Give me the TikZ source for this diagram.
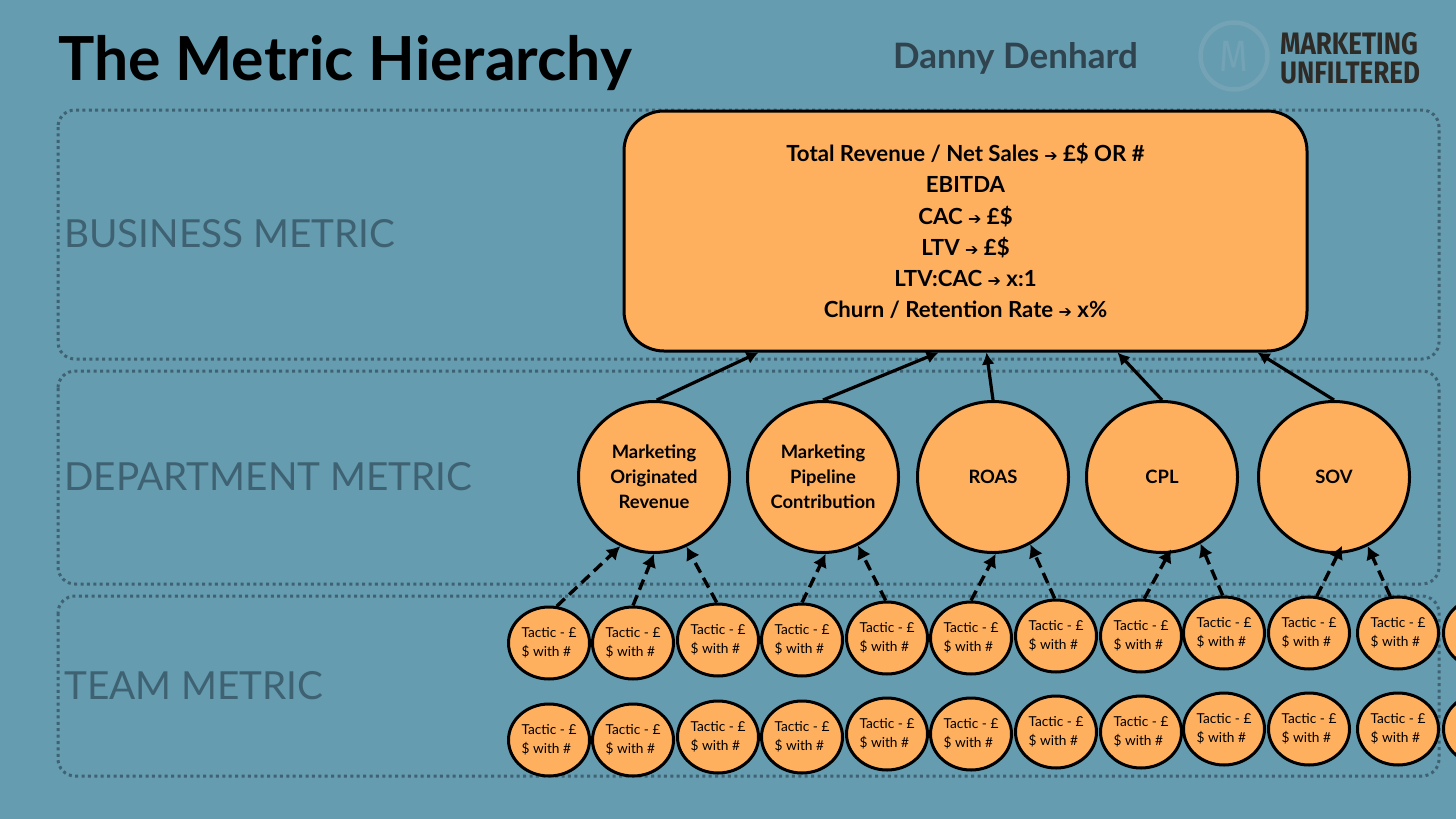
\documentclass[tikz,border=0pt]{standalone}
\usepackage{fontspec}
\setmainfont{Lato}
\newfontfamily\arrowfont{DejaVu Sans}
\newfontfamily\logofont[FakeStretch=0.84]{Fira Sans}
\usetikzlibrary{arrows.meta,positioning,calc,shapes.geometric}
\definecolor{slate}{HTML}{659CB0}
\definecolor{peach}{HTML}{FFB05F}
\definecolor{dusk}{HTML}{3F6272}
\definecolor{ink}{HTML}{2F444F}
\definecolor{ring}{HTML}{74A3B5}
\definecolor{bark}{HTML}{2E2A26}
\newcommand{\arr}{{\arrowfont\fontsize{16}{16}\selectfont ➔}}
\tikzset{
  panel/.style={draw=dusk, line width=3pt, dash pattern=on 3pt off 3.4pt, rounded corners=17pt},
  tier/.style={text=dusk, anchor=west, inner sep=0pt, font=\fontsize{38.7}{38.7}\selectfont},
  dept/.style={circle, draw=black, fill=peach, line width=3pt, minimum size=151pt, inner sep=0pt,
    align=center, font=\bfseries\fontsize{18.4}{25}\selectfont},
  tactic/.style={ellipse, draw=black, fill=peach, line width=3pt, minimum width=81pt, minimum height=72pt,
    inner sep=0pt, align=left, font=\fontsize{13.7}{19.5}\selectfont},
  solidup/.style={line width=3.2pt, -{Latex[length=12pt,width=13pt]}},
  dashup/.style={line width=3.4pt, dash pattern=on 11pt off 6pt, -{Latex[length=13pt,width=15pt]}}
}
\begin{document}
\begin{tikzpicture}[x=1pt, y=-1pt]
  \useasboundingbox[fill=slate] (0,0) rectangle (1456,819);
  % header
  \node[anchor=base west, inner sep=0pt, font=\bfseries\fontsize{60.7}{61}\selectfont] (title) at (58,80) {The Metric Hierarchy};
  \node[anchor=base west, inner sep=0pt, text=ink, font=\bfseries\fontsize{35}{35}\selectfont] (author) at (893,68) {Danny Denhard};
  \node[circle, draw=ring, line width=4.5pt, minimum size=67pt, inner sep=0pt, text=ring, font=\logofont\fontsize{44}{44}\selectfont] (logo) at (1234,56) {M};
  \node[anchor=center, inner sep=0pt, text=bark, font=\logofont\bfseries\fontsize{31}{29}\selectfont, align=left] (brand) at (1350,58) {MARKETING\\UNFILTERED};
  % dotted bands
  \draw[panel] (58,110) rectangle (1439,359);
  \draw[panel] (58,371) rectangle (1439,584);
  \draw[panel] (58,596) rectangle (1439,776);
  \node[tier] (lblbiz) at (64,234) {BUSINESS METRIC};
  \node[tier] (lbldept) at (64,477) {DEPARTMENT METRIC};
  \node[tier] (lblteam) at (64,686) {TEAM METRIC};
  % business metrics
  \node[draw=black, fill=peach, line width=3pt, rounded corners=40pt, minimum width=683pt, minimum height=240pt,
    inner sep=0pt, align=center, font=\bfseries\fontsize{22.2}{31.2}\selectfont] (box) at (965.5,231)
    {Total Revenue / Net Sales \arr{} £\$ OR \#\\EBITDA\\CAC \arr{} £\$\\LTV \arr{} £\$\\LTV:CAC \arr{} x:1\\Churn / Retention Rate \arr{} x\%};
  % department metrics
  \node[dept] (c1) at (654,477) {Marketing\\Originated\\Revenue};
  \node[dept] (c2) at (823,477) {Marketing\\Pipeline\\Contribution};
  \node[dept] (c3) at (993,477) {ROAS};
  \node[dept] (c4) at (1162,477) {CPL};
  \node[dept] (c5) at (1334,477) {SOV};
  % team metrics, two rows
  \foreach \i/\xx/\ya/\yb in {1/549/643/740, 2/633/643/740, 3/718/640/737, 4/802/640/737,
      5/887/638/734, 6/971/638/734, 7/1056/636/732, 8/1141/636/732,
      9/1224/633/729, 10/1309/633/729, 11/1398/633/729, 12/1484/633/729}{
    \node[tactic] (t\i) at (\xx,\ya) {Tactic - £\\\$ with \#};
    \node[tactic] (b\i) at (\xx,\yb) {Tactic - £\\\$ with \#};
  }
  % solid arrows up to the box
  \draw[solidup] (c1.88) -- ([xshift=-207pt]box.south);
  \draw[solidup] (c2.north) -- ([xshift=-27pt]box.south);
  \draw[solidup] (c3.north) -- ([xshift=21pt]box.south);
  \draw[solidup] (c4.north) -- ([xshift=152pt]box.south);
  \draw[solidup] (c5.north) -- ([xshift=292pt]box.south);
  % dashed arrows up to the circles
  \foreach \from/\ang/\to/\tip/\dip in {t1/78/c1/-116/0, t2/90/c1/-90/0, t3/92/c1/-65/0, t4/90/c2/-88/0, t5/92/c2/-63/0,
      t6/90/c3/-88/0, t7/92/c3/-61/0, t8/85/c4/-85/5, t9/92/c4/-60/0, t10/78/c5/-87/9, t11/102/c5/-64/0}{
    \draw[dashup, shorten >=-\dip pt] (\from.\ang) -- (\to.\tip);
  }
\end{tikzpicture}
\end{document}
